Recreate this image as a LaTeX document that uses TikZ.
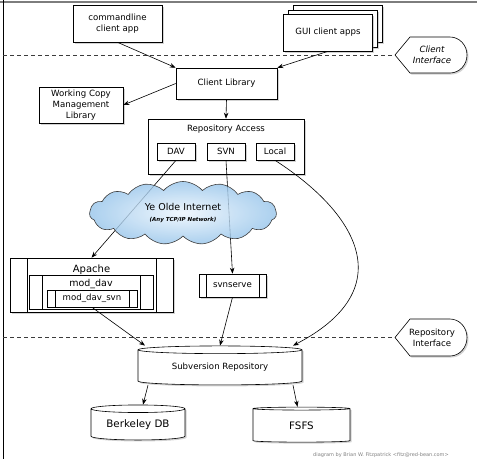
\documentclass[tikz,border=0pt]{standalone}
\usepackage{fontspec}
\setmainfont{DejaVu Sans}
\usetikzlibrary{shapes.geometric, shapes.symbols, shadows, calc, arrows.meta}
\definecolor{cloudin}{RGB}{236,245,253}
\definecolor{cloudout}{RGB}{150,196,234}
\definecolor{framegray}{RGB}{125,125,125}
\definecolor{linegray}{RGB}{60,60,60}
\tikzset{
	box/.style n args={2}{
		draw, fill=white, rectangle, minimum width=#1, minimum height=#2,
		inner sep=0pt, align=center, font=\fontsize{8.6}{11}\selectfont,
		drop shadow={shadow xshift=1.5pt, shadow yshift=-1.5pt, opacity=0.35},
		line width=0.6pt
	},
	subproc/.style={
		draw, fill=white, rectangle, inner sep=0pt, line width=0.6pt,
		path picture={
			\draw[line width=0.6pt] ([xshift=#1]path picture bounding box.north west) -- ([xshift=#1]path picture bounding box.south west);
			\draw[line width=0.6pt] ([xshift=-#1]path picture bounding box.north east) -- ([xshift=-#1]path picture bounding box.south east);
		}
	},
	db/.style n args={3}{
		cylinder, shape border rotate=90, aspect=#3, draw, fill=white,
		minimum width=#1, minimum height=#2, inner sep=0pt, line width=0.6pt,
		drop shadow={shadow xshift=1.5pt, shadow yshift=-1.5pt, opacity=0.35}
	},
	iface/.style={align=center, inner sep=0pt, font=\fontsize{8.6}{11}\selectfont},
	ifshape/.style={draw, fill=white, line width=0.6pt,
		drop shadow={shadow xshift=1.5pt, shadow yshift=-1.5pt, opacity=0.35}},
	sep/.style={draw=linegray, line width=0.7pt, dash pattern=on 4pt off 3pt},
	arr/.style={->, >={Stealth[length=6pt, width=4.5pt]}, line width=0.6pt}
}

\begin{document}
\begin{tikzpicture}[x=1pt, y=-1pt]
\useasboundingbox (0,0) rectangle (477,459);
% frame
\draw[framegray, line width=2pt] (0,1.5) -- (477,1.5);
\draw[line width=0.9pt] (3,0) -- (3,459);
% client side
\node[box={89pt}{37pt}] (cmd) at (117.5,23.5) {commandline\\client app};
\node[box={89pt}{37pt}] (gui3) at (338,24) {};
\node[box={89pt}{37pt}] (gui2) at (333,28.5) {};
\node[box={89pt}{37pt}] (gui) at (328,32.5) {GUI client apps};
\node[box={101pt}{31pt}] (clib) at (226.5,83.5) {Client Library};
\node[box={84pt}{36pt}] (wcml) at (81,105) {Working Copy\\Management\\Library};
\node[box={156pt}{55pt}, label={[anchor=base, yshift=-12.5pt, font=\fontsize{8.6}{10}\selectfont]north:Repository Access}] (ra) at (226,146.5) {};
\node[box={38pt}{17pt}, drop shadow={opacity=0}] (dav) at (176,151.5) {DAV};
\node[box={38pt}{17pt}, drop shadow={opacity=0}] (svn) at (226,151.5) {SVN};
\node[box={38pt}{17pt}, drop shadow={opacity=0}] (local) at (275,151.5) {Local};
% interfaces
\node[iface, font=\fontsize{8.6}{11}\selectfont\itshape] (ci) at (432,55) {\phantom{Client}\\\phantom{Interface}};
\draw[ifshape] ($(ci)+(-37,0)$) -- ++(15,-18) -- ++(40,0) arc[start angle=90, end angle=-90, x radius=17pt, y radius=18pt] -- ++(-40,0) -- cycle;
\node[iface, font=\fontsize{8.6}{11}\selectfont\itshape] at (ci) {Client\\Interface};
\coordinate (cileft) at (3,55);
\coordinate (citip) at ($(ci)+(-37,0)$);
\draw[sep] (cileft) -- (citip);
\node[iface] (ri) at (432,337.5) {\phantom{Repository}\\\phantom{Interface}};
\draw[ifshape] ($(ri)+(-37,0)$) -- ++(15,-18.5) -- ++(40,0) arc[start angle=90, end angle=-90, x radius=17pt, y radius=18.5pt] -- ++(-40,0) -- cycle;
\node[iface] at (ri) {Repository\\Interface};
\coordinate (rileft) at (3,337.5);
\coordinate (ritip) at ($(ri)+(-37,0)$);
\draw[sep] (rileft) -- (ritip);
% servers
\node[subproc=17pt, minimum width=163pt, minimum height=54pt,
	drop shadow={shadow xshift=1.5pt, shadow yshift=-1.5pt, opacity=0.35},
	label={[anchor=base, yshift=-15pt, font=\fontsize{10}{12}\selectfont]north:Apache}] (apache) at (91.5,285) {};
\node[subproc=13pt, minimum width=124pt, minimum height=34pt,
	label={[anchor=base, yshift=-12pt, font=\fontsize{9.5}{11}\selectfont]north:mod\_dav}] (moddav) at (91,292) {};
\node[subproc=8pt, minimum width=90pt, minimum height=17pt, font=\fontsize{8.6}{10}\selectfont] (modsvn) at (92,298.5) {mod\_dav\_svn};
\node[subproc=7pt, minimum width=67pt, minimum height=23pt, font=\fontsize{8.6}{10}\selectfont,
	drop shadow={shadow xshift=1.5pt, shadow yshift=-1.5pt, opacity=0.35}] (svnserve) at (232.5,285.5) {svnserve};
% storage
\node[db={164pt}{39pt}{0.08}, font=\fontsize{8.6}{10}\selectfont] (repo) at (220,367.5) {Subversion Repository};
\node[db={94pt}{35pt}{0.12}, font=\fontsize{10.3}{12}\selectfont] (bdb) at (138,424.5) {Berkeley DB};
\node[db={97pt}{35pt}{0.12}, font=\fontsize{10.3}{12}\selectfont] (fsfs) at (301.5,425.5) {FSFS};
% connectors
\draw[arr] (cmd.south) -- (clib.north west);
\draw[arr] (gui.south) -- (clib.north east);
\draw[arr] (clib.west) -- (wcml.east);
\draw[arr] (clib.south) -- (ra.north);
\draw[arr] (dav.south) -- (apache.north);
\draw[arr] (svn.south) -- (svnserve.north);
\draw[arr] (local.south) .. controls (360,215) and (400,290) .. ([xshift=73pt]repo.north);
\draw[arr] (modsvn.south) -- ([xshift=-75pt]repo.north);
\draw[arr] (svnserve.south) -- (repo.north);
\draw[arr] ([xshift=-72pt]repo.south) -- ([xshift=5pt]bdb.north);
\draw[arr] ([xshift=73pt]repo.south) -- ([xshift=-4pt]fsfs.north);
% the network
\node[cloud, cloud puffs=15, cloud puff arc=100, aspect=3, draw=linegray, line width=0.6pt,
	inner color=cloudin, outer color=cloudout, fill opacity=0.8, text opacity=1,
	minimum width=187pt, minimum height=63pt, align=center, inner sep=0pt] (net) at (183,213)
	{{\fontsize{9.5}{10}\selectfont Ye Olde Internet}\\[-1pt]{\fontsize{5.5}{6}\selectfont\bfseries\itshape (Any TCP/IP Network)}};
\node[font=\fontsize{5}{6}\selectfont, text=gray] (credit) at (381,455) {diagram by Brian W. Fitzpatrick <fitz@red-bean.com>};
\end{tikzpicture}
\end{document}
